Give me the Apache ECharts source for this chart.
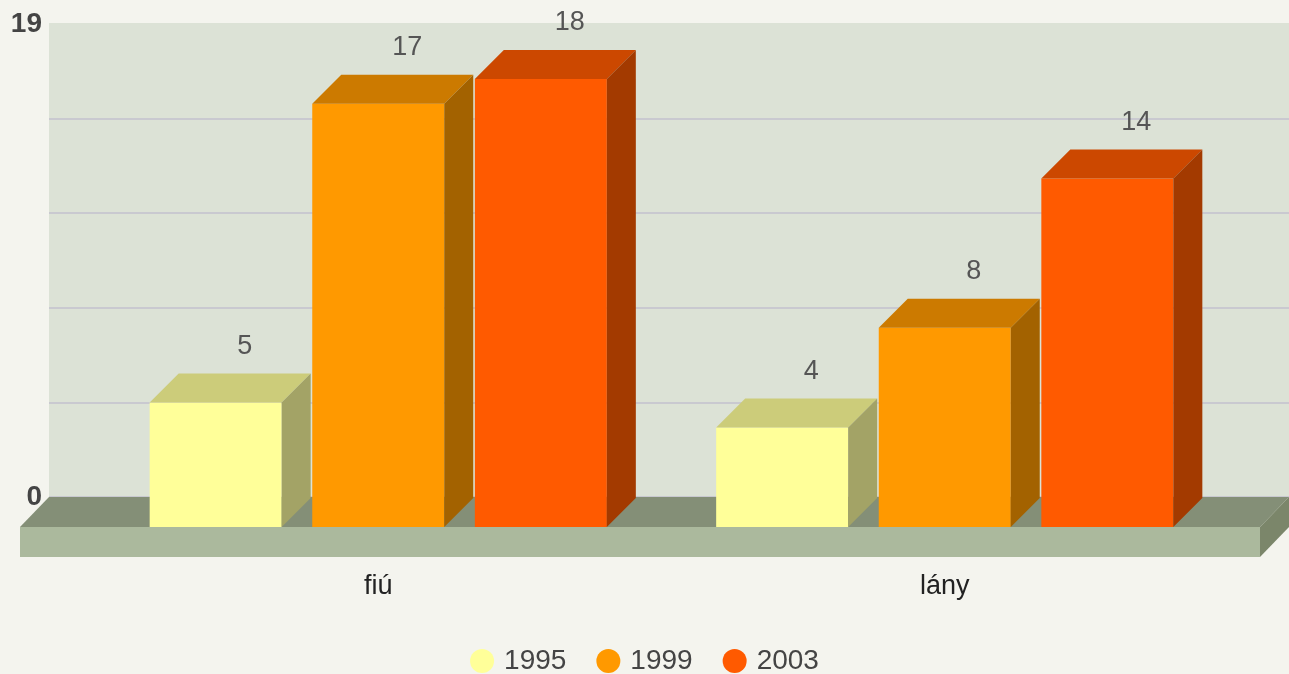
<!DOCTYPE html>
<html>
<head>
<meta charset="utf-8">
<script src="https://cdn.jsdelivr.net/npm/echarts@6/dist/echarts.min.js"></script>
<style>html,body{margin:0;padding:0;background:#f4f4ee;}#c{width:1289px;height:674px;}</style>
</head>
<body>
<div id="c"></div>
<script>
const categories = ['fiú', 'lány'];
const years = ['1995', '1999', '2003'];
const v1995 = [5, 4];
const v1999 = [17, 8];
const v2003 = [18, 14];
const yMax = 19;
const yInterval = 3.8;

const palette = [
  { front: '#ffff99', top: '#cccc7a', side: '#a3a366' },
  { front: '#ff9900', top: '#cc7a00', side: '#a36200' },
  { front: '#ff5a00', top: '#cc4800', side: '#a33a00' }
];
const D = 29;

function barRenderer(sIdx) {
  const col = palette[sIdx];
  return function (params, api) {
    const cat = api.value(0), v = api.value(1);
    const base = api.coord([cat, 0]);
    const topP = api.coord([cat, v]);
    const band = api.size([1, 0])[0];
    const bw = band * 0.233, step = band * 0.287;
    const left = base[0] - band * 0.4035 + sIdx * step;
    const by = base[1], ty = topP[1];
    return {
      type: 'group',
      children: [
        { type: 'rect', shape: { x: left, y: ty, width: bw, height: by - ty }, style: { fill: col.front } },
        { type: 'polygon', shape: { points: [[left, ty], [left + D, ty - D], [left + bw + D, ty - D], [left + bw, ty]] }, style: { fill: col.top } },
        { type: 'polygon', shape: { points: [[left + bw, ty], [left + bw + D, ty - D], [left + bw + D, by - D], [left + bw, by]] }, style: { fill: col.side } },
        { type: 'text', x: left + bw / 2 + D, y: ty - D - 27,
          style: { text: String(v), fill: '#555', font: '27px "Liberation Sans", Arial, sans-serif', align: 'center', verticalAlign: 'middle' } }
      ]
    };
  };
}

function floorRenderer(params, api) {
  const cs = params.coordSys;
  const x = cs.x, y = cs.y + cs.height, w = cs.width;
  const fd = 29, fy = 30, th = 30;
  return {
    type: 'group',
    children: [
      { type: 'polygon', shape: { points: [[x, y], [x + w, y], [x + w - fd, y + fy], [x - fd, y + fy]] }, style: { fill: '#848f77' } },
      { type: 'rect', shape: { x: x - fd, y: y + fy, width: w, height: th }, style: { fill: '#abb99d' } },
      { type: 'polygon', shape: { points: [[x + w - fd, y + fy], [x + w, y], [x + w, y + th], [x + w - fd, y + fy + th]] }, style: { fill: '#7b866a' } }
    ]
  };
}

const seriesVals = [v1995, v1999, v2003];
const series = [{
  type: 'custom', name: 'floor', xAxisIndex: 0, yAxisIndex: 0, z: 1,
  data: [[0.5, 0]], renderItem: floorRenderer, silent: true
}];
years.forEach((y, i) => {
  series.push({
    type: 'custom', name: y, xAxisIndex: 1, yAxisIndex: 1, z: 3,
    itemStyle: { color: palette[i].front },
    data: categories.map((c, j) => [j, seriesVals[i][j]]),
    renderItem: barRenderer(i)
  });
});

const chart = echarts.init(document.getElementById('c'), null, { renderer: 'canvas' });
chart.setOption({
  backgroundColor: '#f4f4ee',
  animation: false,
  textStyle: { fontFamily: '"Liberation Sans", Arial, sans-serif' },
  grid: [
    { left: 49, right: -3, top: 24, bottom: 177, show: true, backgroundColor: '#dce2d6', borderWidth: 0 },
    { left: 95, right: 61, top: 54, bottom: 147 }
  ],
  xAxis: [
    { gridIndex: 0, type: 'value', min: 0, max: 1, show: false },
    { gridIndex: 1, type: 'category', data: categories,
      axisLine: { show: false }, axisTick: { show: false },
      axisLabel: { margin: 46, color: '#222', fontSize: 27, fontFamily: '"Liberation Sans", Arial, sans-serif' } }
  ],
  yAxis: [
    { gridIndex: 0, type: 'value', min: 0, max: yMax, interval: yInterval,
      axisLine: { show: false }, axisTick: { show: false },
      axisLabel: { margin: 7, color: '#444', fontSize: 28, fontWeight: 'bold',
        fontFamily: '"Liberation Sans", Arial, sans-serif',
        formatter: v => (v < 0.01 ? '0' : (v > yMax - 0.1 ? String(yMax) : '')) },
      splitLine: { show: true, lineStyle: { width: 2, color: ['#c9c9d0', '#c9c9d0', '#c9c9d0', '#c9c9d0', '#c9c9d0', '#dce2d6'] } } },
    { gridIndex: 1, type: 'value', min: 0, max: yMax, show: false }
  ],
  legend: {
    data: years, left: 'center', top: 642, icon: 'circle',
    itemWidth: 24, itemHeight: 24, itemGap: 30,
    textStyle: { color: '#444', fontSize: 28, padding: [0, 0, 0, 5], fontFamily: '"Liberation Sans", Arial, sans-serif' }
  },
  series: series
});
</script>
</body>
</html>
